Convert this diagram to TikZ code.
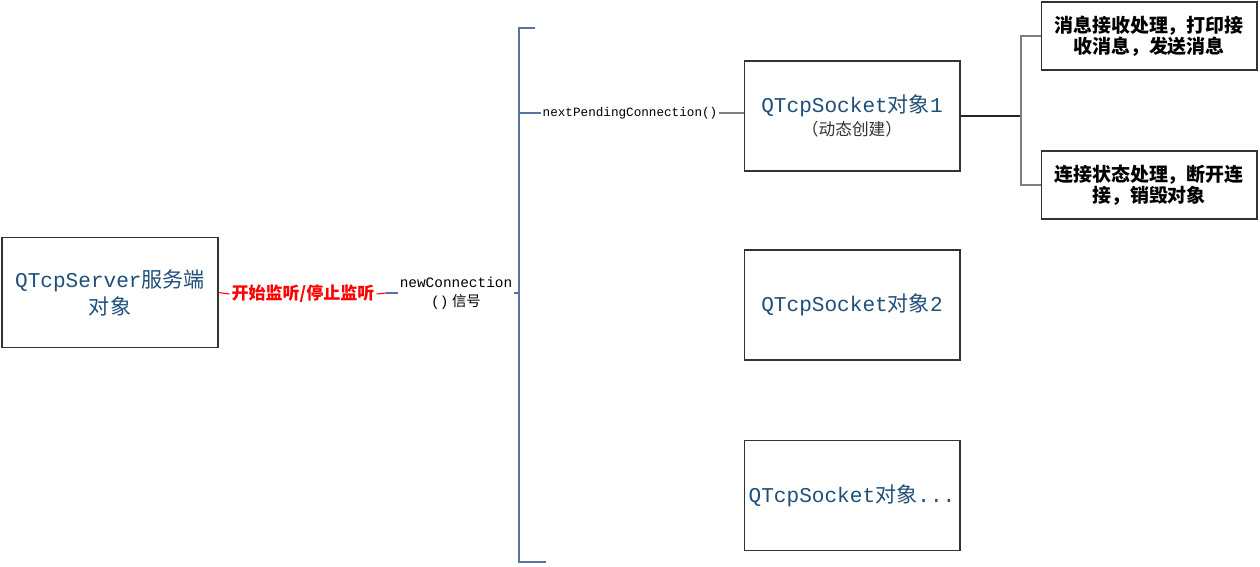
\documentclass[tikz,border=0pt]{standalone}
\usepackage{fontspec}
\usepackage{xcolor}
\usepackage{tikz}
\usetikzlibrary{calc}
\usetikzlibrary{positioning}
\setmainfont{Liberation Serif}
\newfontfamily\cjk{Noto Sans CJK SC}
\newfontfamily\lat{Liberation Mono}
\definecolor{titleblue}{HTML}{1F4E79}
\definecolor{bracketblue}{HTML}{5A74A0}
\definecolor{linegray}{HTML}{7F7F7F}

\begin{document}
\begin{tikzpicture}[x=0.02cm,y=-0.02cm,
  box/.style={draw=black!80,line width=0.6pt,minimum width=4.32cm,align=center,inner sep=2pt},
  sockbox/.style={box,minimum height=2.2cm,text=titleblue,font=\fontsize{12}{15.4}\selectfont},
  notebox/.style={box,minimum height=1.36cm,font=\fontsize{10.8}{12}\selectfont\cjk\bfseries},
  conn/.style={linegray,line width=0.6pt},
  brack/.style={bracketblue,line width=0.7pt}]
\useasboundingbox (0,0) rectangle (1260,566);

% server object
\node[sockbox] (server) at (110,292.5) {{\lat QTcpServer}{\cjk 服务端}\\{\cjk 对象}};

% listen label and signal
\node[text=red,inner sep=1pt,font=\fontsize{9.7}{12}\selectfont\cjk\bfseries] (listen) at (303,294) {开始监听/停止监听};
\node[align=center,inner sep=1pt,font=\fontsize{8.2}{10.8}\selectfont] (sig) at (456,293) {{\lat newConnection}\\{\lat()} {\cjk 信号}};
\coordinate (redend) at (386,293);
\draw[red,line width=0.6pt] (server.east) -- (listen.west);
\draw[red,line width=0.6pt] (listen.east) -- (redend);
\draw[brack] (redend) -- (sig.west);

% bracket
\coordinate (btop) at (519,28);
\coordinate (bbot) at (519,562);
\coordinate (btopend) at (535,28);
\coordinate (bbotend) at (546,562);
\draw[brack] (btopend) -- (btop) -- (bbot) -- (bbotend);
\draw[brack] (sig.east) -- (sig.east -| btop);

% socket objects
\node[sockbox] (sock1) at (852,116) {{\lat QTcpSocket}{\cjk 对象}{\lat 1}\\[-2pt]{\fontsize{9.5}{12}\selectfont\color{black!80}\cjk （动态创建）}};
\foreach \n/\y/\t in {2/305/2, 3/495.5/{.\relax..}}
  \node[sockbox] (sock\n) at (852,\y) {{\lat QTcpSocket}{\cjk 对象}{\lat \t}};

\node[inner sep=1pt,font=\fontsize{7.2}{9}\selectfont\lat] (npc) at (630,113) {nextPendingConnection()};
\draw[brack] (npc.west -| btop) -- (npc.west);
\draw[conn] (npc.east) -- (npc.east -| sock1.west);

% socket handling
\node[notebox] (recv) at (1149,36) {消息接收处理，打印接\\收消息，发送消息};
\node[notebox] (state) at (1149,185) {连接状态处理，断开连\\接，销毁对象};
\coordinate (fork) at (1021,116);
\draw[black!85,line width=0.6pt] (sock1.east) -- (fork);
\draw[conn] (recv.west) -| (fork) |- (state.west);
\end{tikzpicture}
\end{document}
